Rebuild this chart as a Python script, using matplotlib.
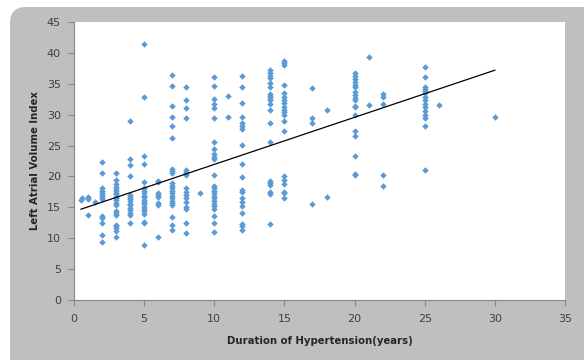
import matplotlib
matplotlib.use('Agg')
import matplotlib.pyplot as plt
from matplotlib.patches import FancyBboxPatch
import numpy as np

# duration of hypertension (years) and the LAVI values seen at each duration
durations = [0.5, 0.6, 1, 1.5, 2, 3, 4, 5, 6, 7, 8, 9, 10, 11, 12, 14, 15,
             17, 18, 20, 21, 22, 25, 26, 30]
lavi_by_duration = [
    [16.2],
    [16.5],
    [16.7, 16.4, 13.8],
    [15.9],
    [22.4, 20.6, 18.1, 17.7, 17.4, 17.0, 16.6, 16.3, 13.6, 13.3, 12.5, 10.6, 9.4],
    [20.6, 19.4, 18.8, 18.3, 18.0, 17.7, 17.4, 17.1, 16.7, 16.5, 16.2, 15.7,
     15.4, 14.4, 14.1, 13.7, 12.2, 11.9, 11.6, 11.2, 10.2],
    [28.9, 22.8, 21.8, 20.1, 17.0, 16.7, 16.3, 16.0, 15.6, 15.3, 14.9, 14.6,
     14.1, 13.7, 12.5],
    [41.4, 32.8, 23.3, 22.0, 19.1, 18.1, 17.7, 17.3, 16.9, 16.6, 16.2, 15.8,
     15.5, 15.1, 14.7, 14.4, 13.9, 12.7, 12.4, 8.9],
    [19.3, 19.1, 17.3, 17.0, 16.7, 15.7, 15.4, 10.2],
    [36.5, 34.6, 31.4, 29.7, 28.2, 26.2, 21.2, 20.9, 20.5, 18.9, 18.4, 18.1,
     17.7, 17.3, 16.8, 16.5, 16.1, 15.7, 15.4, 13.5, 12.1, 11.3],
    [34.4, 32.3, 31.1, 29.4, 21.1, 20.8, 20.5, 20.2, 18.1, 17.5, 17.0, 16.5,
     15.9, 15.1, 14.8, 12.5, 10.8],
    [17.3],
    [36.1, 34.6, 32.6, 31.8, 31.1, 29.4, 25.5, 24.5, 23.7, 23.2, 22.9, 20.3,
     18.4, 18.1, 17.7, 17.3, 16.9, 16.5, 16.1, 15.6, 15.2, 14.8, 13.6, 12.4, 11.0],
    [33.1, 29.7],
    [36.3, 34.4, 31.9, 29.6, 28.6, 28.2, 27.7, 25.1, 22.0, 19.9, 17.8, 17.5,
     16.5, 15.9, 15.2, 14.1, 12.3, 11.9, 11.4],
    [37.2, 36.7, 36.3, 36.0, 35.1, 34.4, 33.4, 33.1, 32.7, 32.3, 31.8, 30.7,
     28.6, 25.5, 19.3, 19.0, 18.6, 17.5, 17.2, 12.3],
    [38.7, 38.4, 38.0, 34.8, 33.5, 32.9, 32.4, 31.9, 31.2, 30.8, 30.4, 29.9,
     29.0, 27.4, 20.0, 19.4, 18.8, 17.5, 17.3, 16.5],
    [34.3, 29.4, 28.6, 15.5],
    [30.7, 16.6],
    [36.7, 36.3, 35.8, 35.3, 34.8, 34.4, 33.7, 33.2, 32.7, 32.4, 31.4, 31.2,
     29.9, 27.3, 26.6, 23.3, 20.4, 20.2],
    [39.4, 31.6],
    [33.3, 32.9, 31.8, 20.2, 18.4],
    [37.7, 36.1, 34.5, 34.2, 33.9, 33.5, 32.8, 32.3, 31.7, 31.2, 30.6, 30.0,
     29.4, 28.2, 21.1],
    [31.6],
    [29.6],
]

# linear trend line (start and end)
trend_x = [0.5, 30]
trend_y = [14.7, 37.2]

xs = np.concatenate([[d] * len(v) for d, v in zip(durations, lavi_by_duration)])
ys = np.concatenate(lavi_by_duration)

fig = plt.figure(figsize=(5.84, 3.6), dpi=100, facecolor='w')

# grey chart frame with rounded top-left corner (inches)
frame = FancyBboxPatch((0.10, -0.5), 6.5, 3.53 + 0.5,
                       transform=fig.dpi_scale_trans,
                       boxstyle='round,pad=0,rounding_size=0.16',
                       facecolor='#bfbfbf', edgecolor='none', zorder=-5)
fig.patches.append(frame)

ax = fig.add_axes([74 / 584, 60 / 360, 491 / 584, 278 / 360], zorder=2)
ax.set_facecolor('w')

ax.plot(xs, ys, linestyle='none', marker='D', markersize=3.3,
        color='#5b9bd5', markeredgewidth=0)
ax.plot(trend_x, trend_y, color='black', linewidth=0.9)

ax.set_xlim(0, 35)
ax.set_ylim(0, 45)
ax.set_xticks(range(0, 36, 5))
ax.set_yticks(range(0, 46, 5))

for side in ['top', 'right']:
    ax.spines[side].set_visible(False)
for side in ['left', 'bottom']:
    ax.spines[side].set_color('#868686')
    ax.spines[side].set_linewidth(0.8)
ax.tick_params(direction='out', length=4, width=0.8, color='#868686',
               labelsize=8, labelcolor='#404040')
ax.tick_params(axis='x', pad=6)
ax.tick_params(axis='y', pad=5.5)

ax.set_xlabel('Duration of Hypertension(years)', fontsize=7.3,
              fontweight='bold', color='#262626', labelpad=8.5)
ax.set_ylabel('Left Atrial Volume Index', fontsize=7.3,
              fontweight='bold', color='#262626', labelpad=5)

fig.savefig('out.png', dpi=100, facecolor='w')
